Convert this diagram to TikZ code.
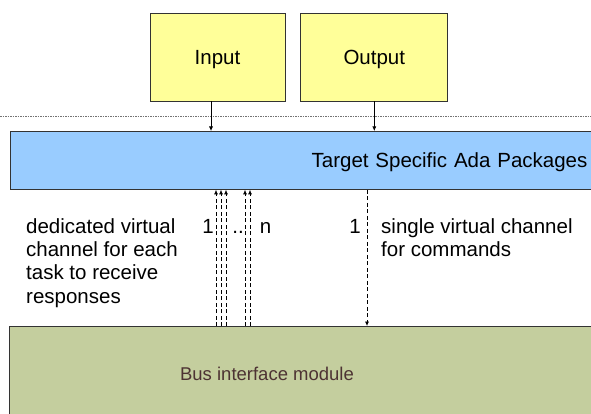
\documentclass[tikz,border=0pt]{standalone}
\usepackage{fontspec}
\setmainfont{Liberation Sans}
\usepackage{tikz}
\usetikzlibrary{arrows.meta,positioning}

\definecolor{ioyellow}{HTML}{FFFF99}
\definecolor{adablue}{HTML}{99CCFF}
\definecolor{busgreen}{HTML}{C4CE9E}
\definecolor{busbrown}{HTML}{4D3333}
\newcommand{\diagfont}{\fontsize{20.5}{23.4}\selectfont}

\begin{document}
\begin{tikzpicture}[x=1pt,y=-1pt,>={Latex[length=4.5pt,width=4pt]},
    box/.style={draw=black!80, line width=0.8pt, fill=ioyellow, minimum height=88pt,
                text height=14.7pt, text depth=0pt, font=\diagfont},
    adabox/.style={draw=black!80, line width=0.8pt, fill=adablue, minimum height=58pt,
                   text width=571pt, align=right, inner xsep=6pt,
                   text height=14.7pt, text depth=0pt, font=\diagfont},
    busbox/.style={draw=black!80, line width=0.8pt, fill=busgreen, minimum width=600pt, minimum height=100pt},
    note/.style={align=left, inner sep=0pt, font=\diagfont},
    num/.style={inner sep=0pt, text height=14.7pt, text depth=0pt, font=\diagfont},
    feed/.style={draw, ->, line width=0.7pt},
    chan/.style={draw, ->, dash pattern=on 4pt off 2.5pt, line width=0.7pt}]
  \useasboundingbox (0,0) rectangle (591,414);
  \clip (0,0) rectangle (591,414);

  \node[box, minimum width=135pt] (input) at (217.5,57)         {Input};
  \node[box, minimum width=147pt] (output) [right=15pt of input] {Output};
  \node[adabox, anchor=north west] (ada) at (10,131)  {Target Specific Ada Packages};
  \node[busbox, anchor=north west] (bus) at (9,326)   {};
  \node[font=\fontsize{18.5}{22}\selectfont, text=busbrown] (busname) at (267,374) {Bus interface module};

  \node[note, anchor=north west] (dedicated) at (26,218)
      {dedicated virtual\\channel for each\\task to receive\\responses};
  \node[note, anchor=north west] (single) at (381,218)
      {single virtual channel\\for commands};

  % boundary
  \draw[black!55, dash pattern=on 1.5pt off 1pt, line width=0.7pt] (0,116) -- (591,116);

  \path
      ([xshift=-6.5pt]input.south) edge[feed] ([xshift=-6.5pt]input.south |- ada.north)
      (output.south) edge[feed] (output.south |- ada.north);

  \path
      (bus.north -| 216,0) edge[chan] node[num, pos=.73, left=2pt] {1} (ada.south -| 216,0)
      (bus.north -| 221,0) edge[chan] (ada.south -| 221,0)
      (bus.north -| 226,0) edge[chan] node[num, pos=.73, right=6pt] {..} (ada.south -| 226,0)
      (bus.north -| 245,0) edge[chan] (ada.south -| 245,0)
      (bus.north -| 250,0) edge[chan] node[num, pos=.73, right=9.5pt] {n} (ada.south -| 250,0)
      (ada.south -| 367,0) edge[chan] node[num, pos=.27, left=6pt] {1} (bus.north -| 367,0);
\end{tikzpicture}
\end{document}
